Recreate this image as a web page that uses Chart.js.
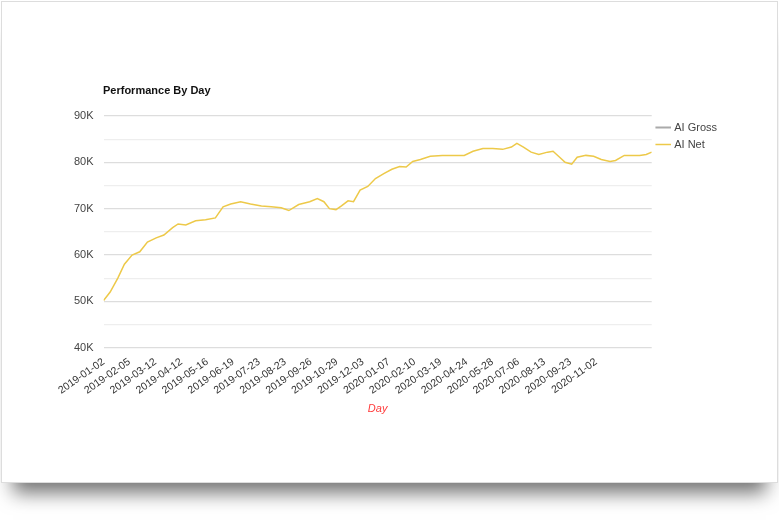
<!DOCTYPE html>
<html>
<head>
<meta charset="utf-8">
<script src="https://cdn.jsdelivr.net/npm/chart.js@4/dist/chart.umd.min.js"></script>
<style>
  body { margin: 0; background: #fff; font-family: "Liberation Sans", Arial, sans-serif; }
  #card { position: absolute; left: 1px; top: 1px; width: 775px; height: 480px; border: 1px solid #ddd; background: #fff;
          box-shadow: 0 22px 18px -12px rgba(0,0,0,0.55); }
  #title { position: absolute; left: 103px; top: 84px; font-size: 11px; font-weight: bold; color: #111; }
</style>
</head>
<body>
<div id="card"><canvas id="myChart" width="775" height="480"></canvas></div>
<div id="title">Performance By Day</div>
<script>
// trading-day index from 2019-01-02, and the AI Net value
let days = [0,6,13,19,26,33,40,48,55,63,68,75,84,93,102,109,116,125,134,144,153,162,169,178,188,195,201,206,212,217,223,228,234,241,248,256,263,270,276,282,289,298,309,320,329,337,346,355,364,372,377,383,390,397,405,410,416,421,427,432,440,447,454,462,467,475,482,489,495,500]
let aiNet = [50200,52000,55000,58000,60000,60700,62800,63700,64300,65900,66700,66500,67400,67600,68000,70400,71000,71500,71000,70600,70400,70200,69600,70900,71500,72200,71500,70000,69800,70600,71700,71500,74000,74800,76500,77600,78500,79100,79000,80200,80600,81300,81500,81500,81500,82400,83000,83000,82800,83300,84100,83300,82200,81700,82200,82400,81100,80000,79600,81100,81500,81300,80600,80200,80400,81500,81500,81500,81700,82200]
let aiGross = []
let tickLabels = ['2019-01-02','2019-02-05','2019-03-12','2019-04-12','2019-05-16','2019-06-19','2019-07-23','2019-08-23','2019-09-26','2019-10-29','2019-12-03','2020-01-07','2020-02-10','2020-03-19','2020-04-24','2020-05-28','2020-07-06','2020-08-13','2020-09-23','2020-11-02']
let tickGap = 23.65

let ctx = document.getElementById("myChart").getContext("2d")

let myChart = new Chart(ctx, {
    type: 'line',
    data: {
        datasets: [{
            label: 'AI Gross',
            data: aiGross,
            borderColor: '#aaaaaa',
            backgroundColor: '#aaaaaa',
            borderWidth: 2,
        }, {
            label: 'AI Net',
            data: days.map((d, i) => ({ x: d, y: aiNet[i] })),
            borderColor: '#edc949',
            backgroundColor: '#edc949',
            borderWidth: 1.5,
            pointRadius: 0,
            tension: 0,
        }],
    },
    options: {
        responsive: false,
        animation: false,
        layout: { padding: { top: 114, left: 62, right: 50, bottom: 62 } },
        plugins: {
            tooltip: { enabled: false },
            legend: {
                position: 'right',
                align: 'start',
                labels: {
                    usePointStyle: true,
                    pointStyle: 'line',
                    boxWidth: 18,
                    padding: 6,
                    color: '#444',
                    font: { size: 11, family: 'Liberation Sans' },
                },
            },
        },
        scales: {
            x: {
                type: 'linear',
                min: 0,
                max: 500,
                grid: { display: false },
                border: { display: false },
                afterBuildTicks: (axis) => {
                    axis.ticks = tickLabels.map((t, i) => ({ value: i * tickGap }))
                },
                ticks: {
                    autoSkip: false,
                    minRotation: 35,
                    maxRotation: 35,
                    color: '#333',
                    padding: 0,
                    font: { size: 10.5, family: 'Liberation Sans' },
                    callback: (v, i) => tickLabels[i],
                },
                title: {
                    display: true,
                    text: 'Day',
                    color: '#ff3b3b',
                    font: { size: 11, style: 'italic', family: 'Liberation Sans' },
                    padding: { top: 6 },
                },
            },
            y: {
                min: 40000,
                max: 90000,
                border: { display: false },
                grid: { color: (c) => c.tick.value % 10000 === 0 ? '#dddddd' : '#eeeeee', lineWidth: 1.2, drawTicks: false },
                ticks: {
                    stepSize: 5000,
                    padding: 10,
                    color: '#444',
                    font: { size: 11, family: 'Liberation Sans' },
                    callback: (v) => v % 10000 === 0 ? (v / 1000) + 'K' : '',
                },
            },
        },
    },
})
</script>
</body>
</html>
